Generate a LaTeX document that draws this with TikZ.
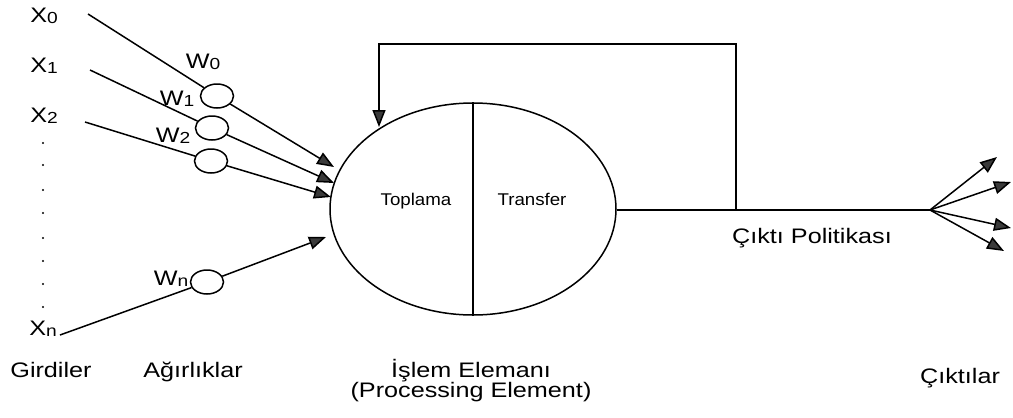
\documentclass[tikz,border=0pt]{standalone}
\usepackage{fontspec}
\newfontfamily\labfont{Liberation Sans}[FakeStretch=1.2]
\newfontfamily\pefont{Liberation Sans}[FakeStretch=1.1]
\usetikzlibrary{arrows.meta,shapes.geometric,positioning}
\definecolor{tipgray}{HTML}{3A3A3A}
\newcommand{\lowidx}[1]{\raisebox{-0.15ex}{\fontsize{16}{16}\selectfont #1}}
\tikzset{
  lab/.style={font=\labfont\fontsize{21}{23}\selectfont, inner sep=0pt, anchor=base},
  inlab/.style={font=\pefont\fontsize{17}{19}\selectfont, inner sep=0pt, anchor=base},
  wgt/.style={draw, ellipse, minimum width=33pt, minimum height=24pt, inner sep=0pt},
  arr/.style={-{Triangle[length=17pt,width=13pt,fill=tipgray]}},
}
\begin{document}
\begin{tikzpicture}[x=1pt, y=-1pt, line width=1.5pt]
    \useasboundingbox (0,0) rectangle (1013,418);
    % processing element
    \node[draw, ellipse, minimum width=286pt, minimum height=212pt, inner sep=0pt] (pe) at (473,209) {};
    \draw (pe.north) -- (pe.south);
    \node[inlab] (sum) at (416,205) {Toplama};
    \node[inlab] (tr) at (532,205) {Transfer};
    % inputs and weights
    \foreach \i/\sx/\sy/\cx/\cy/\tx/\ty/\ly/\wx/\wy in {0/88/14/217/96/334/167/22/203/68, 1/90/70/212/128/334/183/72/177/105, 2/85/122/211/161/331/197/122/173/142} {
        \node[lab] (x\i) at (44,\ly) {X\lowidx{\i}};
        \node[lab] (lw\i) at (\wx,\wy) {W\lowidx{\i}};
        \coordinate (s\i) at (\sx,\sy);
        \coordinate (t\i) at (\tx,\ty);
        \node[wgt] (w\i) at (\cx,\cy) {};
        \draw (s\i) -- (w\i);
        \draw[arr] (w\i) -- (t\i);
    }
    \foreach \y in {143,165,190,213,238,261,284,307} { \fill (43,\y) circle (1.2pt); }
    \node[lab] (xn) at (43,335) {X\lowidx{n}};
    \node[lab] (lwn) at (171,285) {W\lowidx{n}};
    \coordinate (sn) at (60,335);
    \coordinate (tn) at (326,237);
    \node[wgt] (wn) at (207,282) {};
    \draw (sn) -- (wn);
    \draw[arr] (wn) -- (tn);
    % output and feedback
    \coordinate (fan) at (930,210);
    \coordinate (fb) at (736,210);
    \coordinate (fbtop) at (379,44);
    \coordinate (fbin) at (379,127);
    \draw (pe.east |- fan) -- (fan);
    \draw[arr] (fb) |- (fbtop) -- (fbin);
    \foreach \j/\tx/\ty in {1/997/157, 2/1011/182, 3/1011/228, 4/1004/251} {
        \coordinate (o\j) at (\tx,\ty);
        \draw[arr] (fan) -- (o\j);
    }
    \node[lab] (pol) at (812,243) {Çıktı Politikası};
    % captions
    \node[lab] (girdi) at (51,377) {Girdiler};
    \node[lab] (agir) at (193,377) {Ağırlıklar};
    \node[lab] (islem) at (471,377) {İşlem Elemanı};
    \node[lab] (proc) at (471,397) {(Processing Element)};
    \node[lab] (cikti) at (960,383) {Çıktılar};
\end{tikzpicture}
\end{document}
